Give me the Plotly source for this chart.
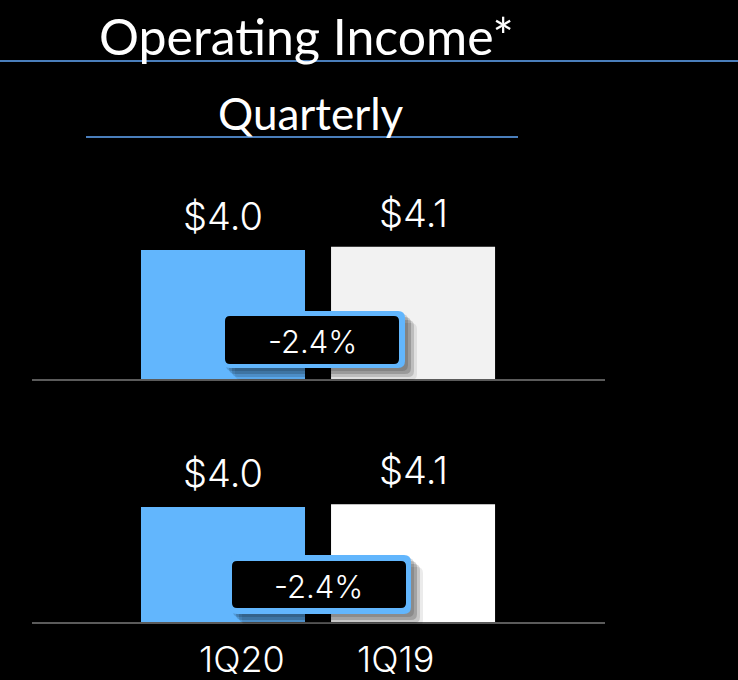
import plotly.graph_objects as go

# ---- data ----
categories = ["1Q20", "1Q19"]
top_values = [4.0, 4.1]
bottom_values = [4.0, 4.1]
title_text = "Operating Income*"
subtitle_text = "Quarterly"

W, H = 738, 680
def px(x):
    return x / W
def py(y):
    return 1 - y / H

BLUE = "#62b6fd"
LINE_BLUE = "#4a7ebb"

fig = go.Figure()
fig.add_trace(go.Bar(x=categories, y=top_values, xaxis="x", yaxis="y",
                     marker=dict(color=[BLUE, "#f2f2f2"], line=dict(width=0)),
                     hoverinfo="skip", showlegend=False))
fig.add_trace(go.Bar(x=categories, y=bottom_values, xaxis="x2", yaxis="y2",
                     marker=dict(color=[BLUE, "#ffffff"], line=dict(width=0)),
                     hoverinfo="skip", showlegend=False))

xdom = [px(32), px(605)]
xr = [-1.005, 2.01]
axis_common = dict(showgrid=False, zeroline=False, showticklabels=False, ticks="",
                   fixedrange=True)
fig.update_layout(
    width=W, height=H, paper_bgcolor="black", plot_bgcolor="black",
    margin=dict(l=0, r=0, t=0, b=0), bargap=0.137,
    xaxis=dict(domain=xdom, range=xr, anchor="y", showline=True, linecolor="#5b5b5b",
               linewidth=2, **axis_common),
    yaxis=dict(domain=[py(379), py(379) + 161.25 / H], range=[0, 5], anchor="x",
               showline=False, **axis_common),
    xaxis2=dict(domain=xdom, range=xr, anchor="y2", showline=True, linecolor="#5b5b5b",
                linewidth=2, **axis_common),
    yaxis2=dict(domain=[py(622), py(622) + 143.75 / H], range=[0, 5], anchor="x2",
                showline=False, **axis_common),
)

label_font = dict(family="Inter, Roboto, sans-serif", size=38, color="white", weight=300)
annotations = []
for xa, ya, vals in (("x", "y", top_values), ("x2", "y2", bottom_values)):
    for c, v in zip(categories, vals):
        annotations.append(dict(x=c, y=v, xref=xa, yref=ya, text=f"${v:.1f}",
                                showarrow=False, xanchor="center", yanchor="middle",
                                yshift=34, font=label_font))

# headings
annotations.append(dict(x=px(306), y=py(36), xref="paper", yref="paper", text=title_text,
                        showarrow=False, xanchor="center", yanchor="middle",
                        font=dict(family="Lato, sans-serif", size=50, color="white")))
annotations.append(dict(x=px(311), y=py(113), xref="paper", yref="paper", text=subtitle_text,
                        showarrow=False, xanchor="center", yanchor="middle",
                        font=dict(family="Lato, sans-serif", size=44, color="white")))

# category labels
for c, xc in zip(categories, (242, 395)):
    annotations.append(dict(x=px(xc), y=py(659), xref="paper", yref="paper", text=c,
                            showarrow=False, xanchor="center", yanchor="middle",
                            font=dict(family="Inter, Roboto, sans-serif",
                                      size=36, color="white", weight=300)))

def rrect(x0, y0, x1, y1, r):
    rx, ry = r / W, r / H
    X0, X1 = px(x0), px(x1)
    Y0, Y1 = py(y0), py(y1)  # Y0 top, Y1 bottom
    return (f"M {X0+rx},{Y0} L {X1-rx},{Y0} Q {X1},{Y0} {X1},{Y0-ry} "
            f"L {X1},{Y1+ry} Q {X1},{Y1} {X1-rx},{Y1} L {X0+rx},{Y1} "
            f"Q {X0},{Y1} {X0},{Y1+ry} L {X0},{Y0-ry} Q {X0},{Y0} {X0+rx},{Y0} Z")

shapes = [
    dict(type="line", xref="paper", yref="paper", x0=0, x1=1, y0=py(61), y1=py(61),
         line=dict(color=LINE_BLUE, width=2)),
    dict(type="line", xref="paper", yref="paper", x0=px(86), x1=px(518), y0=py(137), y1=py(137),
         line=dict(color=LINE_BLUE, width=2)),
]

pct_font = dict(family="Inter, Roboto, sans-serif", size=31, color="white", weight=300)
for vals, outer, inner, tc in (
    (top_values, (223, 311, 405, 368), (225, 316, 399, 364), (312, 341)),
    (bottom_values, (230, 555, 411, 614), (232, 561, 406, 608), (318, 586)),
):
    ox0, oy0, ox1, oy1 = outer
    for k, op in ((3, 0.15), (6, 0.18), (9, 0.15), (12, 0.08)):
        shapes.append(dict(type="path", xref="paper", yref="paper",
                           path=rrect(ox0 + k, oy0 + k, ox1 + k, oy1 + k, 6),
                           fillcolor=f"rgba(0,0,0,{op})", line=dict(width=0)))
    shapes.append(dict(type="path", xref="paper", yref="paper", path=rrect(*outer, 7),
                       fillcolor=BLUE, line=dict(width=0)))
    shapes.append(dict(type="path", xref="paper", yref="paper", path=rrect(*inner, 5),
                       fillcolor="black", line=dict(width=0)))
    chg = (vals[0] - vals[1]) / vals[1] * 100
    annotations.append(dict(x=px(tc[0]), y=py(tc[1]), xref="paper", yref="paper",
                            text=f"{chg:.1f}%", showarrow=False, xanchor="center",
                            yanchor="middle", font=pct_font))

fig.update_layout(shapes=shapes, annotations=annotations)
fig.write_html("out.html", config={"displayModeBar": False},
               post_script="document.body.style.margin='0';document.body.style.background='black';")
